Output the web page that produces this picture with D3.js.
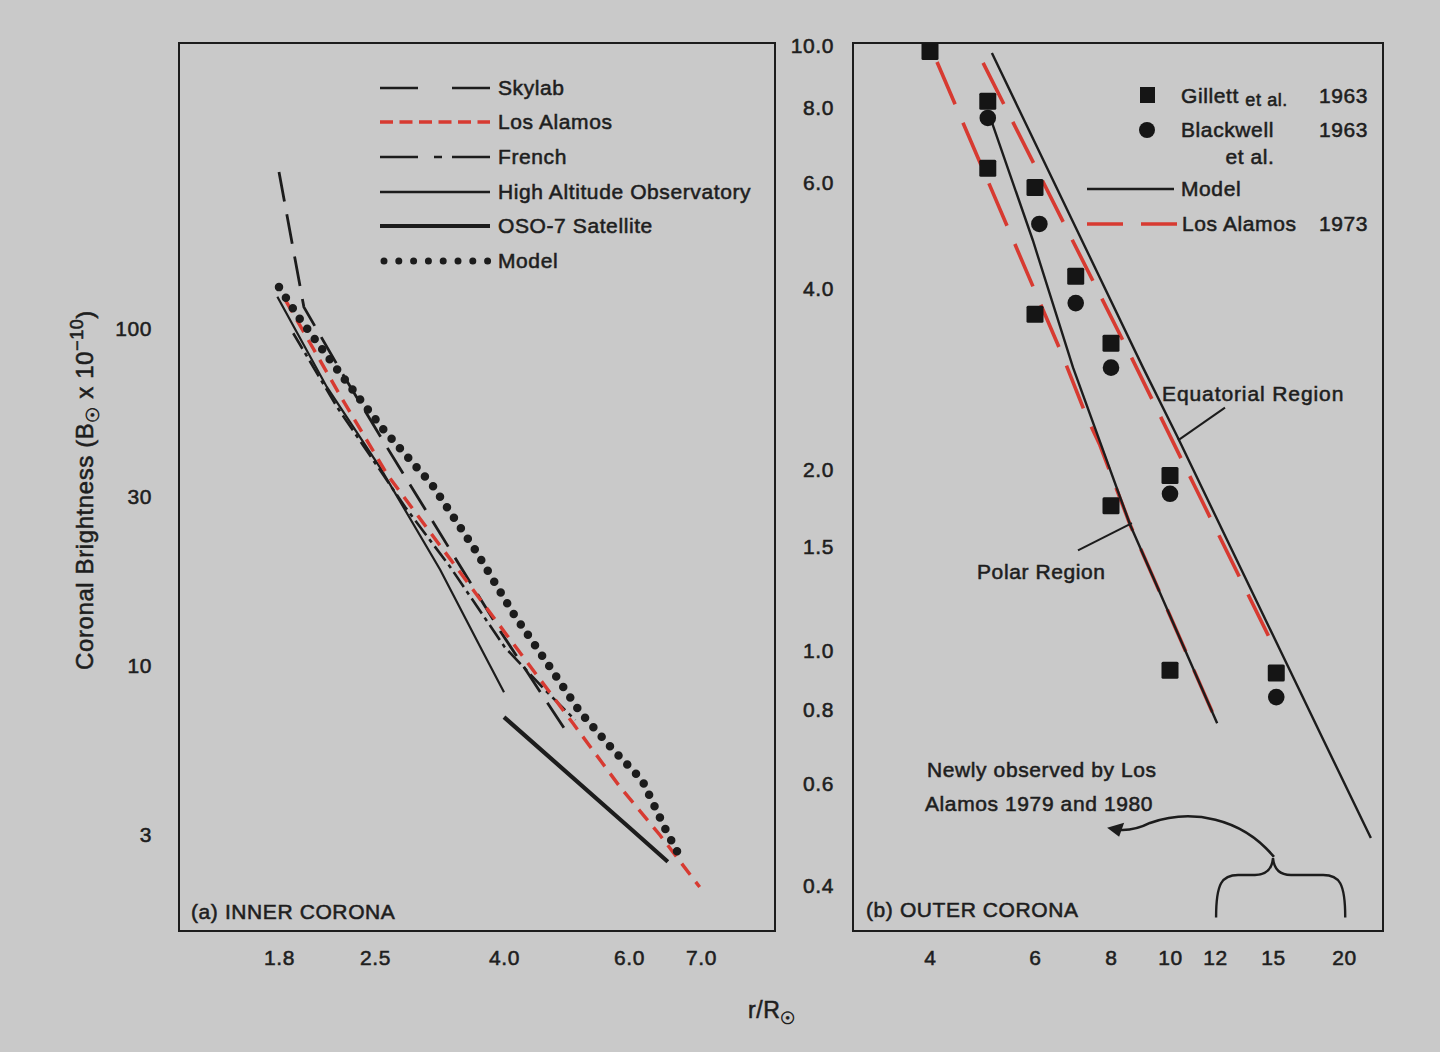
<!DOCTYPE html>
<html><head><meta charset="utf-8">
<script src="https://cdn.jsdelivr.net/npm/d3@7"></script>
<style>
body{margin:0;background:#c9c9c9;}
svg text{font-family:"Liberation Sans",Arial,sans-serif;fill:#1e1e1e;font-size:21px;letter-spacing:0.6px;stroke:#1e1e1e;stroke-width:0.55px;}
</style></head><body>
<svg id="c" width="1440" height="1052"></svg>
<script>
// ---------- data ----------
const leftXTicks = [1.8, 2.5, 4.0, 6.0, 7.0];
const leftXLabels = ["1.8", "2.5", "4.0", "6.0", "7.0"];
const leftYTicks = [3, 10, 30, 100];
const leftYLabels = ["3", "10", "30", "100"];
const rightXTicks = [4, 6, 8, 10, 12, 15, 20];
const rightXLabels = ["4", "6", "8", "10", "12", "15", "20"];
const rightYTicks = [0.4, 0.6, 0.8, 1.0, 1.5, 2.0, 4.0, 6.0, 8.0, 10.0];
const rightYLabels = ["0.4", "0.6", "0.8", "1.0", "1.5", "2.0", "4.0", "6.0", "8.0", "10.0"];

// inner corona series [r/Rsun, brightness]
const skylab = [[1.8,308],[1.96,117],[2.22,74.5],[2.59,44],[3.94,12.6],[4.96,6.0]];
const losAlamosInner = [[1.84,123],[2.23,61],[2.62,35],[4.04,12.2],[5.0,6.66],[5.83,4.22],[6.41,3.0],[6.98,2.07]];
const french = [[1.89,97],[2.2,56.8],[2.79,28.1],[3.29,19.0],[4.01,11.3],[4.57,8.43],[5.04,6.8]];
const hao = [[1.79,126],[2.12,66],[2.55,36.9],[3.17,18.7],[3.69,11.1],[4.0,8.3]];
const oso7 = [[4.0,6.95],[6.0,3.17],[6.52,2.48]];
const modelInner = [[1.8,135],[1.93,108],[2.2,74.5],[2.57,49],[3.08,32.7],[3.6,21.3],[4.12,14.1],[4.6,10.2],[5.12,7.2],[5.7,5.5],[6.17,4.44],[6.48,3.15],[6.69,2.57]];

// outer corona
const gillett = [[4.0,9.8],[5.0,8.2],[5.0,6.35],[6.0,5.9],[7.0,4.2],[6.0,3.63],[8.0,3.25],[8.0,1.75],[10,1.96],[10,0.93],[15.2,0.92]];
const blackwell = [[5.0,7.7],[6.1,5.13],[7.0,3.79],[8.0,2.96],[10,1.83],[15.2,0.84]];
const modelEq = [[5.08,9.75],[9.03,2.96],[10.33,2.26],[18.4,0.712],[22.3,0.484]];
const modelPolar = [[5.05,7.7],[5.95,4.82],[6.93,2.96],[8.6,1.63],[12.1,0.76]];
const laEq = [[4.91,9.41],[8.6,3.11],[11.0,1.9],[15.1,1.01]];
const laPolar = [[4.11,9.44],[6.65,3.11],[7.3,2.45],[7.67,2.2],[8.6,1.63],[12.1,0.76]];

// annotation anchors (data units of the outer panel)
const eqLeader = [[10.33,2.24],[12.47,2.54]];
const polarLeader = [[7.06,1.48],[8.66,1.64]];
const arrowPts = [[15.06,0.449],[13.3,0.525],[10.9,0.545],[9.27,0.514],[8.25,0.5]];

// ---------- layout ----------
const svg = d3.select("#c");
const RED = "#d73a31", INK = "#1c1c1c";
const L = {x0:179, x1:775, y0:43, y1:931};
const R = {x0:853, x1:1383, y0:43, y1:931};

const xL = d3.scaleLog().domain(leftXTicks).range([279,375,504,629,701]);
const yL = d3.scaleLog().domain(leftYTicks).range([835,666,497,329]);
const xR = d3.scaleLog().domain(rightXTicks).range([930,1035,1111,1170,1215,1273,1344]);
const yR = d3.scaleLog().domain(rightYTicks).range([886,784,710,651,547,470,289,183,108,46]);

// frames
[L,R].forEach(f=>svg.append("rect").attr("x",f.x0).attr("y",f.y0)
  .attr("width",f.x1-f.x0).attr("height",f.y1-f.y0)
  .attr("fill","none").attr("stroke",INK).attr("stroke-width",2));

function axisStyle(g){ g.select(".domain").remove(); }
svg.append("g").attr("transform",`translate(0,${L.y1})`)
  .call(d3.axisBottom(xL).tickValues(leftXTicks).tickFormat((d,i)=>leftXLabels[i]).tickSize(0).tickPadding(19)).call(axisStyle);
svg.append("g").attr("transform",`translate(${L.x0},0)`)
  .call(d3.axisLeft(yL).tickValues(leftYTicks).tickFormat((d,i)=>leftYLabels[i]).tickSize(0).tickPadding(27)).call(axisStyle);
svg.append("g").attr("transform",`translate(0,${R.y1})`)
  .call(d3.axisBottom(xR).tickValues(rightXTicks).tickFormat((d,i)=>rightXLabels[i]).tickSize(0).tickPadding(19)).call(axisStyle);
svg.append("g").attr("transform",`translate(${R.x0},0)`)
  .call(d3.axisLeft(yR).tickValues(rightYTicks).tickFormat((d,i)=>rightYLabels[i]).tickSize(0).tickPadding(19)).call(axisStyle);

const lineL = d3.line().x(d=>xL(d[0])).y(d=>yL(d[1]));
const lineR = d3.line().x(d=>xR(d[0])).y(d=>yR(d[1]));

function draw(gen, data, st){
  const p = svg.append("path").attr("d",gen(data)).attr("fill","none")
    .attr("stroke",st.c||INK).attr("stroke-width",st.w||2);
  if(st.dash) p.attr("stroke-dasharray",st.dash);
  if(st.cap) p.attr("stroke-linecap",st.cap);
  return p;
}

// inner corona lines
draw(lineL, hao, {w:2.2});
draw(lineL, oso7, {w:4.2});
draw(lineL, french, {w:2.6, dash:"18,5,4,5"});
draw(lineL, skylab, {w:2.8, dash:"30,13"});
draw(lineL, losAlamosInner, {c:RED, w:3.4, dash:"14,9"});
draw(lineL, modelInner, {w:8.5, dash:"0,12.6", cap:"round"});

// left legend
const legItems = [
  {t:"Skylab", y:88, st:{w:2.4, dash:"38,34"}},
  {t:"Los Alamos", y:122, st:{c:RED, w:3.4, dash:"13,6.5"}},
  {t:"French", y:157, st:{w:2.4, dash:"38,16,8,10,38"}},
  {t:"High Altitude Observatory", y:192, st:{w:2.4}},
  {t:"OSO-7 Satellite", y:226, st:{w:4.2}},
  {t:"Model", y:261, st:{w:7, dash:"0,14.8", cap:"round"}}
];
legItems.forEach(it=>{
  const isDot = it.t==="Model";
  const p = svg.append("line").attr("x1",isDot?384:380).attr("x2",isDot?488:490)
    .attr("y1",it.y).attr("y2",it.y).attr("stroke",it.st.c||INK).attr("stroke-width",it.st.w);
  if(it.st.dash) p.attr("stroke-dasharray",it.st.dash);
  if(it.st.cap) p.attr("stroke-linecap",it.st.cap);
  svg.append("text").attr("x",498).attr("y",it.y).attr("dy","0.35em").text(it.t);
});

svg.append("text").attr("x",191).attr("y",912).attr("dy","0.35em").text("(a) INNER CORONA");

// outer corona lines
draw(lineR, laPolar, {c:RED, w:3.6, dash:"46,20"});
draw(lineR, laEq, {c:RED, w:3.6, dash:"46,20"});
draw(lineR, modelPolar, {w:2.4});
draw(lineR, modelEq, {w:2.4});

const sq = 17;
svg.selectAll("rect.g").data(gillett).join("rect").attr("class","g")
  .attr("x",d=>xR(d[0])-sq/2).attr("y",d=>yR(d[1])-sq/2).attr("width",sq).attr("height",sq)
  .attr("rx",1.5).attr("fill","#151515");
svg.selectAll("circle.b").data(blackwell).join("circle").attr("class","b")
  .attr("cx",d=>xR(d[0])).attr("cy",d=>yR(d[1])).attr("r",8.3).attr("fill","#151515");

// right legend
svg.append("rect").attr("x",1140).attr("y",87).attr("width",15).attr("height",16).attr("fill","#151515");
svg.append("circle").attr("cx",1147).attr("cy",130).attr("r",8).attr("fill","#151515");
const tg = svg.append("text").attr("x",1181).attr("y",96).attr("dy","0.35em");
tg.append("tspan").text("Gillett ");
tg.append("tspan").style("font-size","18px").attr("dy","3").text("et al.");
svg.append("text").attr("x",1368).attr("y",96).attr("dy","0.35em").attr("text-anchor","end").text("1963");
svg.append("text").attr("x",1181).attr("y",130).attr("dy","0.35em").text("Blackwell");
svg.append("text").attr("x",1368).attr("y",130).attr("dy","0.35em").attr("text-anchor","end").text("1963");
svg.append("text").attr("x",1250).attr("y",157).attr("dy","0.35em").attr("text-anchor","middle").text("et al.");
svg.append("line").attr("x1",1087).attr("x2",1174).attr("y1",189).attr("y2",189).attr("stroke",INK).attr("stroke-width",2.4);
svg.append("text").attr("x",1181).attr("y",189).attr("dy","0.35em").text("Model");
svg.append("line").attr("x1",1087).attr("x2",1177).attr("y1",224).attr("y2",224).attr("stroke",RED).attr("stroke-width",3.6).attr("stroke-dasharray","36,18");
svg.append("text").attr("x",1182).attr("y",224).attr("dy","0.35em").text("Los Alamos");
svg.append("text").attr("x",1368).attr("y",224).attr("dy","0.35em").attr("text-anchor","end").text("1973");

// region labels with leaders
svg.append("text").attr("x",1162).attr("y",394).attr("dy","0.35em").style("letter-spacing","0.9px").text("Equatorial Region");
draw(lineR, eqLeader, {w:2});
svg.append("text").attr("x",977).attr("y",572).attr("dy","0.35em").text("Polar Region");
draw(lineR, polarLeader, {w:2});

// annotation
svg.append("text").attr("x",927).attr("y",770).attr("dy","0.35em").text("Newly observed by Los");
svg.append("text").attr("x",925).attr("y",804).attr("dy","0.35em").text("Alamos 1979 and 1980");
svg.append("text").attr("x",866).attr("y",910).attr("dy","0.35em").text("(b) OUTER CORONA");

// brace spanning 12..20
{
  const bx0 = xR(12.05), bx1 = xR(20.1), bm = xR(15), yb = yR(0.353), ym = yR(0.418), yt = yR(0.447);
  const p = d3.path();
  p.moveTo(bx0, yb);
  p.bezierCurveTo(bx0, ym+8, bx0+6, ym, bx0+22, ym);
  p.lineTo(bm-18, ym);
  p.bezierCurveTo(bm-6, ym, bm-1, ym-6, bm, yt);
  p.moveTo(bm, yt);
  p.bezierCurveTo(bm+1, ym-6, bm+6, ym, bm+18, ym);
  p.lineTo(bx1-22, ym);
  p.bezierCurveTo(bx1-6, ym, bx1, ym+8, bx1, yb);
  svg.append("path").attr("d",p.toString()).attr("fill","none").attr("stroke",INK).attr("stroke-width",2.4);

  // curved arrow from brace to text
  const P = arrowPts.map(d=>[xR(d[0]), yR(d[1])]);
  const a = d3.path();
  a.moveTo(P[0][0], P[0][1]);
  a.bezierCurveTo(P[1][0], P[1][1], P[2][0], P[2][1], P[3][0], P[3][1]);
  a.quadraticCurveTo((P[3][0]+P[4][0])/2, P[4][1]+1, P[4][0], P[4][1]);
  svg.append("path").attr("d",a.toString()).attr("fill","none").attr("stroke",INK).attr("stroke-width",2.6);
  const hx = P[4][0]-12, hy = P[4][1]-2;
  svg.append("path").attr("d",`M${hx},${hy} L${hx+17},${hy-5} L${hx+12},${hy+9} Z`).attr("fill",INK);
}

// axis titles
const yt = svg.append("text").attr("transform","translate(93,490) rotate(-90)").attr("text-anchor","middle").style("font-size","24px");
yt.append("tspan").text("Coronal Brightness (B");
yt.append("tspan").style("font-size","18px").attr("dy","6").text("\u2609");
yt.append("tspan").attr("dy","-6").text(" x 10");
yt.append("tspan").style("font-size","18px").attr("dy","-10").text("\u221210");
yt.append("tspan").attr("dy","10").text(")");

const xt = svg.append("text").attr("x",772).attr("y",1018).attr("text-anchor","middle").style("font-size","23px");
xt.append("tspan").text("r/R");
xt.append("tspan").style("font-size","17px").attr("dy","6").text("\u2609");
</script></body></html>
